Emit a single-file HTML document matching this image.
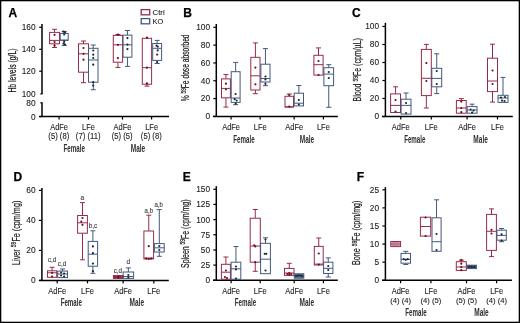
<!DOCTYPE html><html><head><meta charset="utf-8"><style>html,body{margin:0;padding:0;background:#fff;}svg{display:block;}text{font-family:"Liberation Sans",sans-serif;stroke:#222;stroke-width:0.1px;} svg{-webkit-font-smoothing:antialiased;} .g{will-change:transform;}</style></head><body>
<svg style="will-change:transform;filter:blur(0.5px)" width="520" height="323" viewBox="0 0 520 323">
<rect x="0" y="0" width="520" height="323" fill="#fff"/>
<text x="8.5" y="16.6" font-size="12" text-anchor="start" font-weight="bold" fill="#000" style="stroke:#000;stroke-width:0.25px">A</text>
<line x1="42.0" y1="23.9" x2="42.0" y2="94.2" stroke="#000" stroke-width="1.5"/>
<line x1="42.0" y1="102.2" x2="42.0" y2="116.6" stroke="#000" stroke-width="1.5"/>
<line x1="39.2" y1="27.3" x2="42.0" y2="27.3" stroke="#000" stroke-width="1.2"/>
<text x="35.5" y="30.2" font-size="8.3" text-anchor="end" font-weight="normal" fill="#222" >160</text>
<line x1="39.2" y1="49.3" x2="42.0" y2="49.3" stroke="#000" stroke-width="1.2"/>
<text x="35.5" y="52.2" font-size="8.3" text-anchor="end" font-weight="normal" fill="#222" >140</text>
<line x1="39.2" y1="71.2" x2="42.0" y2="71.2" stroke="#000" stroke-width="1.2"/>
<text x="35.5" y="74.1" font-size="8.3" text-anchor="end" font-weight="normal" fill="#222" >120</text>
<line x1="40.4" y1="93.8" x2="42.0" y2="93.8" stroke="#000" stroke-width="1.2"/>
<text x="35.5" y="96.7" font-size="8.3" text-anchor="end" font-weight="normal" fill="#222" >100</text>
<line x1="40.4" y1="102.8" x2="42.0" y2="102.8" stroke="#000" stroke-width="1.2"/>
<text x="35.5" y="105.7" font-size="8.3" text-anchor="end" font-weight="normal" fill="#222" >80</text>
<line x1="39.2" y1="116.6" x2="42.0" y2="116.6" stroke="#000" stroke-width="1.2"/>
<text x="35.5" y="119.5" font-size="8.3" text-anchor="end" font-weight="normal" fill="#222" >0</text>
<line x1="39.1" y1="116.6" x2="169" y2="116.6" stroke="#000" stroke-width="1.5"/>
<line x1="59.1" y1="116.6" x2="59.1" y2="119.6" stroke="#000" stroke-width="1.2"/>
<line x1="88.5" y1="116.6" x2="88.5" y2="119.6" stroke="#000" stroke-width="1.2"/>
<line x1="122.5" y1="116.6" x2="122.5" y2="119.6" stroke="#000" stroke-width="1.2"/>
<line x1="151.6" y1="116.6" x2="151.6" y2="119.6" stroke="#000" stroke-width="1.2"/>
<text x="59.1" y="129.7" font-size="8.2" text-anchor="middle" font-weight="normal" fill="#222" textLength="17.9" lengthAdjust="spacingAndGlyphs" >AdFe</text>
<text x="88.5" y="129.7" font-size="8.2" text-anchor="middle" font-weight="normal" fill="#222" textLength="12.9" lengthAdjust="spacingAndGlyphs" >LFe</text>
<text x="122.5" y="129.7" font-size="8.2" text-anchor="middle" font-weight="normal" fill="#222" textLength="17.9" lengthAdjust="spacingAndGlyphs" >AdFe</text>
<text x="151.6" y="129.7" font-size="8.2" text-anchor="middle" font-weight="normal" fill="#222" textLength="12.9" lengthAdjust="spacingAndGlyphs" >LFe</text>
<text x="58.8" y="139.0" font-size="8.2" text-anchor="middle" font-weight="normal" fill="#222" textLength="20.9" lengthAdjust="spacingAndGlyphs" >(5) (8)</text>
<text x="88.2" y="139.0" font-size="8.2" text-anchor="middle" font-weight="normal" fill="#222" textLength="24.7" lengthAdjust="spacingAndGlyphs" >(7) (11)</text>
<text x="122.2" y="139.0" font-size="8.2" text-anchor="middle" font-weight="normal" fill="#222" textLength="20.9" lengthAdjust="spacingAndGlyphs" >(5) (5)</text>
<text x="151.3" y="139.0" font-size="8.2" text-anchor="middle" font-weight="normal" fill="#222" textLength="20.9" lengthAdjust="spacingAndGlyphs" >(5) (8)</text>
<text x="74.2" y="152.2" font-size="10" text-anchor="middle" font-weight="bold" fill="#303030" textLength="21.3" lengthAdjust="spacingAndGlyphs" style="stroke:none">Female</text>
<text x="138" y="152.2" font-size="10" text-anchor="middle" font-weight="bold" fill="#303030" textLength="14.5" lengthAdjust="spacingAndGlyphs" style="stroke:none">Male</text>
<text transform="translate(15.5,92.6) rotate(-90)" x="0" y="0" font-size="10" fill="#222" style="stroke:#222;stroke-width:0.22px" textLength="44.2" lengthAdjust="spacingAndGlyphs">Hb levels (g/L)</text>
<rect x="141.2" y="9.6" width="8.5" height="5.2" fill="none" stroke="#962c4a" stroke-width="1.3"/>
<rect x="141.2" y="18.6" width="8.5" height="5.2" fill="none" stroke="#43597e" stroke-width="1.3"/>
<text x="152.6" y="14.8" font-size="7.6" text-anchor="start" font-weight="normal" fill="#222" textLength="12.1" lengthAdjust="spacingAndGlyphs" >Ctrl</text>
<text x="152.6" y="23.7" font-size="7.6" text-anchor="start" font-weight="normal" fill="#222" textLength="10.7" lengthAdjust="spacingAndGlyphs" >KO</text>
<line x1="54.55" y1="29.3" x2="54.55" y2="32.4" stroke="#962c4a" stroke-width="1.0"/>
<line x1="52.05" y1="29.3" x2="57.05" y2="29.3" stroke="#962c4a" stroke-width="1.0"/>
<line x1="54.55" y1="43.8" x2="54.55" y2="47.5" stroke="#962c4a" stroke-width="1.0"/>
<line x1="52.05" y1="47.5" x2="57.05" y2="47.5" stroke="#962c4a" stroke-width="1.0"/>
<rect x="49.6" y="32.4" width="9.9" height="11.4" fill="none" stroke="#962c4a" stroke-width="1.0"/>
<line x1="49.6" y1="40.4" x2="59.5" y2="40.4" stroke="#962c4a" stroke-width="1.0"/>
<circle cx="54.55" cy="34.8" r="1.1" fill="#6a0f20"/>
<circle cx="54.55" cy="42.0" r="1.1" fill="#6a0f20"/>
<circle cx="54.55" cy="45.7" r="1.1" fill="#6a0f20"/>
<line x1="64.2" y1="31.4" x2="64.2" y2="33.4" stroke="#43597e" stroke-width="1.0"/>
<line x1="61.7" y1="31.4" x2="66.7" y2="31.4" stroke="#43597e" stroke-width="1.0"/>
<line x1="64.2" y1="40.3" x2="64.2" y2="45.5" stroke="#43597e" stroke-width="1.0"/>
<line x1="61.7" y1="45.5" x2="66.7" y2="45.5" stroke="#43597e" stroke-width="1.0"/>
<rect x="60.2" y="33.4" width="8.0" height="6.9" fill="none" stroke="#43597e" stroke-width="1.0"/>
<line x1="60.2" y1="40.1" x2="68.2" y2="40.1" stroke="#43597e" stroke-width="1.0"/>
<circle cx="63.4" cy="31.6" r="1.1" fill="#1c2838"/>
<circle cx="65.0" cy="32.2" r="1.1" fill="#1c2838"/>
<circle cx="64.2" cy="34.5" r="1.1" fill="#1c2838"/>
<circle cx="64.2" cy="41.5" r="1.1" fill="#1c2838"/>
<circle cx="63.4" cy="43.6" r="1.1" fill="#1c2838"/>
<circle cx="65.0" cy="44.5" r="1.1" fill="#1c2838"/>
<line x1="83.5" y1="41.0" x2="83.5" y2="43.8" stroke="#962c4a" stroke-width="1.0"/>
<line x1="81.0" y1="41.0" x2="86.0" y2="41.0" stroke="#962c4a" stroke-width="1.0"/>
<line x1="83.5" y1="72.2" x2="83.5" y2="82.7" stroke="#962c4a" stroke-width="1.0"/>
<line x1="81.0" y1="82.7" x2="86.0" y2="82.7" stroke="#962c4a" stroke-width="1.0"/>
<rect x="78.5" y="43.8" width="10.0" height="28.4" fill="none" stroke="#962c4a" stroke-width="1.0"/>
<line x1="78.5" y1="53.8" x2="88.5" y2="53.8" stroke="#962c4a" stroke-width="1.0"/>
<circle cx="83.5" cy="48.0" r="1.1" fill="#6a0f20"/>
<circle cx="83.5" cy="53.8" r="1.1" fill="#6a0f20"/>
<circle cx="83.5" cy="59.7" r="1.1" fill="#6a0f20"/>
<line x1="93.25" y1="45.0" x2="93.25" y2="48.3" stroke="#43597e" stroke-width="1.0"/>
<line x1="90.75" y1="45.0" x2="95.75" y2="45.0" stroke="#43597e" stroke-width="1.0"/>
<line x1="93.25" y1="82.2" x2="93.25" y2="89.7" stroke="#43597e" stroke-width="1.0"/>
<line x1="90.75" y1="89.7" x2="95.75" y2="89.7" stroke="#43597e" stroke-width="1.0"/>
<rect x="88.5" y="48.3" width="9.5" height="33.9" fill="none" stroke="#43597e" stroke-width="1.0"/>
<line x1="88.5" y1="60.0" x2="98.0" y2="60.0" stroke="#43597e" stroke-width="1.0"/>
<circle cx="93.25" cy="50.5" r="1.1" fill="#1c2838"/>
<circle cx="93.25" cy="54.7" r="1.1" fill="#1c2838"/>
<circle cx="93.25" cy="58.0" r="1.1" fill="#1c2838"/>
<circle cx="93.25" cy="64.7" r="1.1" fill="#1c2838"/>
<circle cx="93.25" cy="82.2" r="1.1" fill="#1c2838"/>
<circle cx="93.25" cy="85.5" r="1.1" fill="#1c2838"/>
<line x1="117.95" y1="34.5" x2="117.95" y2="35.4" stroke="#962c4a" stroke-width="1.0"/>
<line x1="115.45" y1="34.5" x2="120.45" y2="34.5" stroke="#962c4a" stroke-width="1.0"/>
<line x1="117.95" y1="62.2" x2="117.95" y2="67.4" stroke="#962c4a" stroke-width="1.0"/>
<line x1="115.45" y1="67.4" x2="120.45" y2="67.4" stroke="#962c4a" stroke-width="1.0"/>
<rect x="113.3" y="35.4" width="9.3" height="26.8" fill="none" stroke="#962c4a" stroke-width="1.0"/>
<line x1="113.3" y1="44.8" x2="122.6" y2="44.8" stroke="#962c4a" stroke-width="1.0"/>
<circle cx="117.95" cy="34.7" r="1.1" fill="#6a0f20"/>
<circle cx="117.95" cy="44.8" r="1.1" fill="#6a0f20"/>
<circle cx="117.95" cy="58.1" r="1.1" fill="#6a0f20"/>
<line x1="127.45" y1="30.5" x2="127.45" y2="35.1" stroke="#43597e" stroke-width="1.0"/>
<line x1="124.95" y1="30.5" x2="129.95" y2="30.5" stroke="#43597e" stroke-width="1.0"/>
<line x1="127.45" y1="57.2" x2="127.45" y2="66.4" stroke="#43597e" stroke-width="1.0"/>
<line x1="124.95" y1="66.4" x2="129.95" y2="66.4" stroke="#43597e" stroke-width="1.0"/>
<rect x="123.0" y="35.1" width="8.9" height="22.1" fill="none" stroke="#43597e" stroke-width="1.0"/>
<line x1="123.0" y1="44.8" x2="131.9" y2="44.8" stroke="#43597e" stroke-width="1.0"/>
<circle cx="127.45" cy="38.1" r="1.1" fill="#1c2838"/>
<circle cx="127.45" cy="44.6" r="1.1" fill="#1c2838"/>
<circle cx="127.45" cy="49.1" r="1.1" fill="#1c2838"/>
<line x1="146.95" y1="84.2" x2="146.95" y2="86.1" stroke="#962c4a" stroke-width="1.0"/>
<line x1="144.45" y1="86.1" x2="149.45" y2="86.1" stroke="#962c4a" stroke-width="1.0"/>
<rect x="142.3" y="38.3" width="9.3" height="45.9" fill="none" stroke="#962c4a" stroke-width="1.0"/>
<line x1="142.3" y1="67.7" x2="151.6" y2="67.7" stroke="#962c4a" stroke-width="1.0"/>
<circle cx="146.95" cy="37.6" r="1.1" fill="#6a0f20"/>
<circle cx="146.95" cy="67.7" r="1.1" fill="#6a0f20"/>
<circle cx="146.95" cy="83.4" r="1.1" fill="#6a0f20"/>
<line x1="157.15" y1="40.4" x2="157.15" y2="43.5" stroke="#43597e" stroke-width="1.0"/>
<line x1="154.65" y1="40.4" x2="159.65" y2="40.4" stroke="#43597e" stroke-width="1.0"/>
<line x1="157.15" y1="60.4" x2="157.15" y2="63.5" stroke="#43597e" stroke-width="1.0"/>
<line x1="154.65" y1="63.5" x2="159.65" y2="63.5" stroke="#43597e" stroke-width="1.0"/>
<rect x="152.7" y="43.5" width="8.9" height="16.9" fill="none" stroke="#43597e" stroke-width="1.0"/>
<line x1="152.7" y1="48.3" x2="161.6" y2="48.3" stroke="#43597e" stroke-width="1.0"/>
<circle cx="156.55" cy="45.7" r="1.1" fill="#1c2838"/>
<circle cx="157.75" cy="46.6" r="1.1" fill="#1c2838"/>
<circle cx="157.65" cy="50.4" r="1.1" fill="#1c2838"/>
<circle cx="157.15" cy="54.6" r="1.1" fill="#1c2838"/>
<circle cx="157.15" cy="62" r="1.1" fill="#1c2838"/>
<text x="183.2" y="16.8" font-size="12" text-anchor="start" font-weight="bold" fill="#000" style="stroke:#000;stroke-width:0.25px">B</text>
<line x1="216.3" y1="24" x2="216.3" y2="116.6" stroke="#000" stroke-width="1.5"/>
<line x1="213.3" y1="27.3" x2="216.3" y2="27.3" stroke="#000" stroke-width="1.2"/>
<text x="210.1" y="30.2" font-size="8.3" text-anchor="end" font-weight="normal" fill="#222" >100</text>
<line x1="213.3" y1="45.12" x2="216.3" y2="45.12" stroke="#000" stroke-width="1.2"/>
<text x="210.1" y="48.02" font-size="8.3" text-anchor="end" font-weight="normal" fill="#222" >80</text>
<line x1="213.3" y1="62.94" x2="216.3" y2="62.94" stroke="#000" stroke-width="1.2"/>
<text x="210.1" y="65.84" font-size="8.3" text-anchor="end" font-weight="normal" fill="#222" >60</text>
<line x1="213.3" y1="80.76" x2="216.3" y2="80.76" stroke="#000" stroke-width="1.2"/>
<text x="210.1" y="83.66" font-size="8.3" text-anchor="end" font-weight="normal" fill="#222" >40</text>
<line x1="213.3" y1="98.58" x2="216.3" y2="98.58" stroke="#000" stroke-width="1.2"/>
<text x="210.1" y="101.48" font-size="8.3" text-anchor="end" font-weight="normal" fill="#222" >20</text>
<line x1="213.3" y1="116.4" x2="216.3" y2="116.4" stroke="#000" stroke-width="1.2"/>
<text x="210.1" y="119.3" font-size="8.3" text-anchor="end" font-weight="normal" fill="#222" >0</text>
<line x1="213" y1="116.6" x2="337.8" y2="116.6" stroke="#000" stroke-width="1.5"/>
<line x1="231.1" y1="116.6" x2="231.1" y2="119.6" stroke="#000" stroke-width="1.2"/>
<line x1="260.2" y1="116.6" x2="260.2" y2="119.6" stroke="#000" stroke-width="1.2"/>
<line x1="294.2" y1="116.6" x2="294.2" y2="119.6" stroke="#000" stroke-width="1.2"/>
<line x1="323.4" y1="116.6" x2="323.4" y2="119.6" stroke="#000" stroke-width="1.2"/>
<text x="231.1" y="129.5" font-size="8.2" text-anchor="middle" font-weight="normal" fill="#222" textLength="17.9" lengthAdjust="spacingAndGlyphs" >AdFe</text>
<text x="260.2" y="129.5" font-size="8.2" text-anchor="middle" font-weight="normal" fill="#222" textLength="12.9" lengthAdjust="spacingAndGlyphs" >LFe</text>
<text x="294.2" y="129.5" font-size="8.2" text-anchor="middle" font-weight="normal" fill="#222" textLength="17.9" lengthAdjust="spacingAndGlyphs" >AdFe</text>
<text x="323.4" y="129.5" font-size="8.2" text-anchor="middle" font-weight="normal" fill="#222" textLength="12.9" lengthAdjust="spacingAndGlyphs" >LFe</text>
<text x="244" y="143.0" font-size="10" text-anchor="middle" font-weight="bold" fill="#303030" textLength="21.3" lengthAdjust="spacingAndGlyphs" style="stroke:none">Female</text>
<text x="307" y="143.0" font-size="10" text-anchor="middle" font-weight="bold" fill="#303030" textLength="14.5" lengthAdjust="spacingAndGlyphs" style="stroke:none">Male</text>
<text transform="translate(189.2,101.2) rotate(-90)" x="0" y="0" font-size="10" fill="#222" style="stroke:#222;stroke-width:0.22px" textLength="66.8" lengthAdjust="spacingAndGlyphs">% <tspan font-size="7" dy="-3.2">59</tspan><tspan dy="3.2">Fe dose absorbed</tspan></text>
<line x1="225.95" y1="74.6" x2="225.95" y2="78.9" stroke="#962c4a" stroke-width="1.0"/>
<line x1="223.45" y1="74.6" x2="228.45" y2="74.6" stroke="#962c4a" stroke-width="1.0"/>
<line x1="225.95" y1="97.8" x2="225.95" y2="107.1" stroke="#962c4a" stroke-width="1.0"/>
<line x1="223.45" y1="107.1" x2="228.45" y2="107.1" stroke="#962c4a" stroke-width="1.0"/>
<rect x="221.5" y="78.9" width="8.9" height="18.9" fill="none" stroke="#962c4a" stroke-width="1.0"/>
<line x1="221.5" y1="88.4" x2="230.4" y2="88.4" stroke="#962c4a" stroke-width="1.0"/>
<circle cx="225.95" cy="83.7" r="1.1" fill="#6a0f20"/>
<circle cx="225.95" cy="89.3" r="1.1" fill="#6a0f20"/>
<line x1="235.65" y1="62.4" x2="235.65" y2="71.7" stroke="#43597e" stroke-width="1.0"/>
<line x1="233.15" y1="62.4" x2="238.15" y2="62.4" stroke="#43597e" stroke-width="1.0"/>
<line x1="235.65" y1="102.4" x2="235.65" y2="104.7" stroke="#43597e" stroke-width="1.0"/>
<line x1="233.15" y1="104.7" x2="238.15" y2="104.7" stroke="#43597e" stroke-width="1.0"/>
<rect x="231.2" y="71.7" width="8.9" height="30.7" fill="none" stroke="#43597e" stroke-width="1.0"/>
<line x1="231.2" y1="98.0" x2="240.1" y2="98.0" stroke="#43597e" stroke-width="1.0"/>
<circle cx="235.65" cy="94.0" r="1.1" fill="#1c2838"/>
<circle cx="234.65" cy="99.2" r="1.1" fill="#1c2838"/>
<circle cx="236.65" cy="100.5" r="1.1" fill="#1c2838"/>
<circle cx="235.65" cy="103.7" r="1.1" fill="#1c2838"/>
<line x1="255.4" y1="42.9" x2="255.4" y2="57.3" stroke="#962c4a" stroke-width="1.0"/>
<line x1="252.9" y1="42.9" x2="257.9" y2="42.9" stroke="#962c4a" stroke-width="1.0"/>
<line x1="255.4" y1="90.0" x2="255.4" y2="93.7" stroke="#962c4a" stroke-width="1.0"/>
<line x1="252.9" y1="93.7" x2="257.9" y2="93.7" stroke="#962c4a" stroke-width="1.0"/>
<rect x="250.8" y="57.3" width="9.2" height="32.7" fill="none" stroke="#962c4a" stroke-width="1.0"/>
<line x1="250.8" y1="75.8" x2="260.0" y2="75.8" stroke="#962c4a" stroke-width="1.0"/>
<circle cx="255.4" cy="67.6" r="1.1" fill="#6a0f20"/>
<circle cx="255.4" cy="84.3" r="1.1" fill="#6a0f20"/>
<line x1="265.45" y1="48.6" x2="265.45" y2="64.2" stroke="#43597e" stroke-width="1.0"/>
<line x1="262.95" y1="48.6" x2="267.95" y2="48.6" stroke="#43597e" stroke-width="1.0"/>
<line x1="265.45" y1="82.0" x2="265.45" y2="85.7" stroke="#43597e" stroke-width="1.0"/>
<line x1="262.95" y1="85.7" x2="267.95" y2="85.7" stroke="#43597e" stroke-width="1.0"/>
<rect x="260.9" y="64.2" width="9.1" height="17.8" fill="none" stroke="#43597e" stroke-width="1.0"/>
<line x1="260.9" y1="78.5" x2="270.0" y2="78.5" stroke="#43597e" stroke-width="1.0"/>
<circle cx="265.45" cy="76.5" r="1.1" fill="#1c2838"/>
<circle cx="265.45" cy="79.5" r="1.1" fill="#1c2838"/>
<circle cx="265.45" cy="84" r="1.1" fill="#1c2838"/>
<line x1="289.25" y1="94.0" x2="289.25" y2="96.3" stroke="#962c4a" stroke-width="1.0"/>
<line x1="286.75" y1="94.0" x2="291.75" y2="94.0" stroke="#962c4a" stroke-width="1.0"/>
<rect x="285.0" y="96.3" width="8.5" height="10.8" fill="none" stroke="#962c4a" stroke-width="1.0"/>
<line x1="285.0" y1="106.8" x2="293.5" y2="106.8" stroke="#962c4a" stroke-width="1.0"/>
<circle cx="289.25" cy="95" r="1.1" fill="#6a0f20"/>
<circle cx="289.25" cy="106.5" r="1.1" fill="#6a0f20"/>
<line x1="298.85" y1="85.5" x2="298.85" y2="93.2" stroke="#43597e" stroke-width="1.0"/>
<line x1="296.35" y1="85.5" x2="301.35" y2="85.5" stroke="#43597e" stroke-width="1.0"/>
<rect x="294.2" y="93.2" width="9.3" height="12.7" fill="none" stroke="#43597e" stroke-width="1.0"/>
<line x1="294.2" y1="103.2" x2="303.5" y2="103.2" stroke="#43597e" stroke-width="1.0"/>
<circle cx="298.85" cy="100" r="1.1" fill="#1c2838"/>
<circle cx="298.85" cy="104.5" r="1.1" fill="#1c2838"/>
<line x1="318.5" y1="47.9" x2="318.5" y2="55.3" stroke="#962c4a" stroke-width="1.0"/>
<line x1="316.0" y1="47.9" x2="321.0" y2="47.9" stroke="#962c4a" stroke-width="1.0"/>
<rect x="313.9" y="55.3" width="9.2" height="19.8" fill="none" stroke="#962c4a" stroke-width="1.0"/>
<line x1="313.9" y1="64.7" x2="323.1" y2="64.7" stroke="#962c4a" stroke-width="1.0"/>
<circle cx="318.5" cy="61" r="1.1" fill="#6a0f20"/>
<circle cx="318.5" cy="75" r="1.1" fill="#6a0f20"/>
<line x1="328.75" y1="64.7" x2="328.75" y2="67.7" stroke="#43597e" stroke-width="1.0"/>
<line x1="326.25" y1="64.7" x2="331.25" y2="64.7" stroke="#43597e" stroke-width="1.0"/>
<line x1="328.75" y1="85.7" x2="328.75" y2="107.3" stroke="#43597e" stroke-width="1.0"/>
<line x1="326.25" y1="107.3" x2="331.25" y2="107.3" stroke="#43597e" stroke-width="1.0"/>
<rect x="323.9" y="67.7" width="9.7" height="18.0" fill="none" stroke="#43597e" stroke-width="1.0"/>
<line x1="323.9" y1="74.1" x2="333.6" y2="74.1" stroke="#43597e" stroke-width="1.0"/>
<circle cx="328.75" cy="72" r="1.1" fill="#1c2838"/>
<circle cx="328.75" cy="78" r="1.1" fill="#1c2838"/>
<text x="351.9" y="17.2" font-size="12" text-anchor="start" font-weight="bold" fill="#000" style="stroke:#000;stroke-width:0.25px">C</text>
<line x1="385.4" y1="22.8" x2="385.4" y2="116.5" stroke="#000" stroke-width="1.5"/>
<line x1="382.4" y1="26.5" x2="385.4" y2="26.5" stroke="#000" stroke-width="1.2"/>
<text x="379.1" y="29.4" font-size="8.3" text-anchor="end" font-weight="normal" fill="#222" >100</text>
<line x1="382.4" y1="44.5" x2="385.4" y2="44.5" stroke="#000" stroke-width="1.2"/>
<text x="379.1" y="47.4" font-size="8.3" text-anchor="end" font-weight="normal" fill="#222" >80</text>
<line x1="382.4" y1="62.5" x2="385.4" y2="62.5" stroke="#000" stroke-width="1.2"/>
<text x="379.1" y="65.4" font-size="8.3" text-anchor="end" font-weight="normal" fill="#222" >60</text>
<line x1="382.4" y1="80.5" x2="385.4" y2="80.5" stroke="#000" stroke-width="1.2"/>
<text x="379.1" y="83.4" font-size="8.3" text-anchor="end" font-weight="normal" fill="#222" >40</text>
<line x1="382.4" y1="98.5" x2="385.4" y2="98.5" stroke="#000" stroke-width="1.2"/>
<text x="379.1" y="101.4" font-size="8.3" text-anchor="end" font-weight="normal" fill="#222" >20</text>
<line x1="382.4" y1="116.5" x2="385.4" y2="116.5" stroke="#000" stroke-width="1.2"/>
<text x="379.1" y="119.4" font-size="8.3" text-anchor="end" font-weight="normal" fill="#222" >0</text>
<line x1="382" y1="116.5" x2="512.8" y2="116.5" stroke="#000" stroke-width="1.5"/>
<line x1="400.8" y1="116.5" x2="400.8" y2="119.5" stroke="#000" stroke-width="1.2"/>
<line x1="431.3" y1="116.5" x2="431.3" y2="119.5" stroke="#000" stroke-width="1.2"/>
<line x1="467.1" y1="116.5" x2="467.1" y2="119.5" stroke="#000" stroke-width="1.2"/>
<line x1="497.5" y1="116.5" x2="497.5" y2="119.5" stroke="#000" stroke-width="1.2"/>
<text x="400.8" y="129.5" font-size="8.2" text-anchor="middle" font-weight="normal" fill="#222" textLength="17.9" lengthAdjust="spacingAndGlyphs" >AdFe</text>
<text x="431.3" y="129.5" font-size="8.2" text-anchor="middle" font-weight="normal" fill="#222" textLength="12.9" lengthAdjust="spacingAndGlyphs" >LFe</text>
<text x="467.1" y="129.5" font-size="8.2" text-anchor="middle" font-weight="normal" fill="#222" textLength="17.9" lengthAdjust="spacingAndGlyphs" >AdFe</text>
<text x="497.5" y="129.5" font-size="8.2" text-anchor="middle" font-weight="normal" fill="#222" textLength="12.9" lengthAdjust="spacingAndGlyphs" >LFe</text>
<text x="414.8" y="143.0" font-size="10" text-anchor="middle" font-weight="bold" fill="#303030" textLength="21.3" lengthAdjust="spacingAndGlyphs" style="stroke:none">Female</text>
<text x="480.6" y="143.0" font-size="10" text-anchor="middle" font-weight="bold" fill="#303030" textLength="14.5" lengthAdjust="spacingAndGlyphs" style="stroke:none">Male</text>
<text transform="translate(361.3,101.5) rotate(-90)" x="0" y="0" font-size="10" fill="#222" style="stroke:#222;stroke-width:0.22px" textLength="63.4" lengthAdjust="spacingAndGlyphs">Blood <tspan font-size="7" dy="-3.2">59</tspan><tspan dy="3.2">Fe (cpm/µL)</tspan></text>
<line x1="395.55" y1="86.8" x2="395.55" y2="93.9" stroke="#962c4a" stroke-width="1.0"/>
<line x1="393.05" y1="86.8" x2="398.05" y2="86.8" stroke="#962c4a" stroke-width="1.0"/>
<rect x="390.6" y="93.9" width="9.9" height="18.6" fill="none" stroke="#962c4a" stroke-width="1.0"/>
<line x1="390.6" y1="105.4" x2="400.5" y2="105.4" stroke="#962c4a" stroke-width="1.0"/>
<circle cx="395.55" cy="100" r="1.1" fill="#6a0f20"/>
<circle cx="395.55" cy="111.5" r="1.1" fill="#6a0f20"/>
<line x1="406.05" y1="93.0" x2="406.05" y2="99.2" stroke="#43597e" stroke-width="1.0"/>
<line x1="403.55" y1="93.0" x2="408.55" y2="93.0" stroke="#43597e" stroke-width="1.0"/>
<rect x="401.1" y="99.2" width="9.9" height="14.9" fill="none" stroke="#43597e" stroke-width="1.0"/>
<line x1="401.1" y1="105.4" x2="411.0" y2="105.4" stroke="#43597e" stroke-width="1.0"/>
<circle cx="406.05" cy="103" r="1.1" fill="#1c2838"/>
<circle cx="406.05" cy="113" r="1.1" fill="#1c2838"/>
<line x1="426.35" y1="44.4" x2="426.35" y2="49.4" stroke="#962c4a" stroke-width="1.0"/>
<line x1="423.85" y1="44.4" x2="428.85" y2="44.4" stroke="#962c4a" stroke-width="1.0"/>
<line x1="426.35" y1="95.6" x2="426.35" y2="108" stroke="#962c4a" stroke-width="1.0"/>
<line x1="423.85" y1="108" x2="428.85" y2="108" stroke="#962c4a" stroke-width="1.0"/>
<rect x="421.4" y="49.4" width="9.9" height="46.2" fill="none" stroke="#962c4a" stroke-width="1.0"/>
<line x1="421.4" y1="78.3" x2="431.3" y2="78.3" stroke="#962c4a" stroke-width="1.0"/>
<circle cx="426.35" cy="63" r="1.1" fill="#6a0f20"/>
<circle cx="426.35" cy="81" r="1.1" fill="#6a0f20"/>
<line x1="436.75" y1="53.8" x2="436.75" y2="68.3" stroke="#43597e" stroke-width="1.0"/>
<line x1="434.25" y1="53.8" x2="439.25" y2="53.8" stroke="#43597e" stroke-width="1.0"/>
<line x1="436.75" y1="86.8" x2="436.75" y2="93.6" stroke="#43597e" stroke-width="1.0"/>
<line x1="434.25" y1="93.6" x2="439.25" y2="93.6" stroke="#43597e" stroke-width="1.0"/>
<rect x="431.8" y="68.3" width="9.9" height="18.5" fill="none" stroke="#43597e" stroke-width="1.0"/>
<line x1="431.8" y1="78.4" x2="441.7" y2="78.4" stroke="#43597e" stroke-width="1.0"/>
<circle cx="436.75" cy="71" r="1.1" fill="#1c2838"/>
<circle cx="436.75" cy="84" r="1.1" fill="#1c2838"/>
<line x1="461.3" y1="98.6" x2="461.3" y2="100.5" stroke="#962c4a" stroke-width="1.0"/>
<line x1="458.8" y1="98.6" x2="463.8" y2="98.6" stroke="#962c4a" stroke-width="1.0"/>
<rect x="456.4" y="100.5" width="9.8" height="12.7" fill="none" stroke="#962c4a" stroke-width="1.0"/>
<line x1="456.4" y1="108.0" x2="466.2" y2="108.0" stroke="#962c4a" stroke-width="1.0"/>
<circle cx="461.3" cy="101.6" r="1.1" fill="#6a0f20"/>
<circle cx="461.3" cy="108" r="1.1" fill="#6a0f20"/>
<circle cx="461.3" cy="112.2" r="1.1" fill="#6a0f20"/>
<line x1="472.1" y1="104.2" x2="472.1" y2="106.6" stroke="#43597e" stroke-width="1.0"/>
<line x1="469.6" y1="104.2" x2="474.6" y2="104.2" stroke="#43597e" stroke-width="1.0"/>
<rect x="467.2" y="106.6" width="9.8" height="6.6" fill="none" stroke="#43597e" stroke-width="1.0"/>
<line x1="467.2" y1="110.0" x2="477.0" y2="110.0" stroke="#43597e" stroke-width="1.0"/>
<circle cx="470.6" cy="109.5" r="1.1" fill="#1c2838"/>
<circle cx="473.6" cy="110.5" r="1.1" fill="#1c2838"/>
<circle cx="472.1" cy="112.5" r="1.1" fill="#1c2838"/>
<line x1="492.5" y1="44.2" x2="492.5" y2="58.2" stroke="#962c4a" stroke-width="1.0"/>
<line x1="490.0" y1="44.2" x2="495.0" y2="44.2" stroke="#962c4a" stroke-width="1.0"/>
<line x1="492.5" y1="91.6" x2="492.5" y2="102.1" stroke="#962c4a" stroke-width="1.0"/>
<line x1="490.0" y1="102.1" x2="495.0" y2="102.1" stroke="#962c4a" stroke-width="1.0"/>
<rect x="487.5" y="58.2" width="10.0" height="33.4" fill="none" stroke="#962c4a" stroke-width="1.0"/>
<line x1="487.5" y1="81.0" x2="497.5" y2="81.0" stroke="#962c4a" stroke-width="1.0"/>
<circle cx="492.5" cy="70.5" r="1.1" fill="#6a0f20"/>
<circle cx="492.5" cy="84" r="1.1" fill="#6a0f20"/>
<line x1="503.0" y1="77.4" x2="503.0" y2="95.3" stroke="#43597e" stroke-width="1.0"/>
<line x1="500.5" y1="77.4" x2="505.5" y2="77.4" stroke="#43597e" stroke-width="1.0"/>
<rect x="498.0" y="95.3" width="10.0" height="7.1" fill="none" stroke="#43597e" stroke-width="1.0"/>
<line x1="498.0" y1="98.0" x2="508.0" y2="98.0" stroke="#43597e" stroke-width="1.0"/>
<circle cx="501.0" cy="97.5" r="1.1" fill="#1c2838"/>
<circle cx="505.0" cy="97" r="1.1" fill="#1c2838"/>
<circle cx="502.0" cy="100.6" r="1.1" fill="#1c2838"/>
<circle cx="504.5" cy="101" r="1.1" fill="#1c2838"/>
<text x="13.5" y="180.6" font-size="12" text-anchor="start" font-weight="bold" fill="#000" style="stroke:#000;stroke-width:0.25px">D</text>
<line x1="41.9" y1="188.0" x2="41.9" y2="280.4" stroke="#000" stroke-width="1.5"/>
<line x1="38.9" y1="190.4" x2="41.9" y2="190.4" stroke="#000" stroke-width="1.2"/>
<text x="35.5" y="193.3" font-size="8.3" text-anchor="end" font-weight="normal" fill="#222" >60</text>
<line x1="38.9" y1="220.4" x2="41.9" y2="220.4" stroke="#000" stroke-width="1.2"/>
<text x="35.5" y="223.3" font-size="8.3" text-anchor="end" font-weight="normal" fill="#222" >40</text>
<line x1="38.9" y1="250.4" x2="41.9" y2="250.4" stroke="#000" stroke-width="1.2"/>
<text x="35.5" y="253.3" font-size="8.3" text-anchor="end" font-weight="normal" fill="#222" >20</text>
<line x1="38.9" y1="280.4" x2="41.9" y2="280.4" stroke="#000" stroke-width="1.2"/>
<text x="35.5" y="283.3" font-size="8.3" text-anchor="end" font-weight="normal" fill="#222" >0</text>
<line x1="38.9" y1="280.4" x2="168.8" y2="280.4" stroke="#000" stroke-width="1.5"/>
<line x1="57.2" y1="280.4" x2="57.2" y2="283.4" stroke="#000" stroke-width="1.2"/>
<line x1="87.5" y1="280.4" x2="87.5" y2="283.4" stroke="#000" stroke-width="1.2"/>
<line x1="123.1" y1="280.4" x2="123.1" y2="283.4" stroke="#000" stroke-width="1.2"/>
<line x1="153.8" y1="280.4" x2="153.8" y2="283.4" stroke="#000" stroke-width="1.2"/>
<text x="57.2" y="293.8" font-size="8.2" text-anchor="middle" font-weight="normal" fill="#222" textLength="17.9" lengthAdjust="spacingAndGlyphs" >AdFe</text>
<text x="87.5" y="293.8" font-size="8.2" text-anchor="middle" font-weight="normal" fill="#222" textLength="12.9" lengthAdjust="spacingAndGlyphs" >LFe</text>
<text x="123.1" y="293.8" font-size="8.2" text-anchor="middle" font-weight="normal" fill="#222" textLength="17.9" lengthAdjust="spacingAndGlyphs" >AdFe</text>
<text x="153.8" y="293.8" font-size="8.2" text-anchor="middle" font-weight="normal" fill="#222" textLength="12.9" lengthAdjust="spacingAndGlyphs" >LFe</text>
<text x="71.3" y="305.6" font-size="10" text-anchor="middle" font-weight="bold" fill="#303030" textLength="21.3" lengthAdjust="spacingAndGlyphs" style="stroke:none">Female</text>
<text x="136.8" y="305.6" font-size="10" text-anchor="middle" font-weight="bold" fill="#303030" textLength="14.5" lengthAdjust="spacingAndGlyphs" style="stroke:none">Male</text>
<text transform="translate(19.6,264.9) rotate(-90)" x="0" y="0" font-size="10" fill="#222" style="stroke:#222;stroke-width:0.22px" textLength="64.2" lengthAdjust="spacingAndGlyphs">Liver <tspan font-size="7" dy="-3.2">59</tspan><tspan dy="3.2">Fe (cpm/mg)</tspan></text>
<line x1="52.1" y1="267.3" x2="52.1" y2="270.8" stroke="#962c4a" stroke-width="1.0"/>
<line x1="49.6" y1="267.3" x2="54.6" y2="267.3" stroke="#962c4a" stroke-width="1.0"/>
<rect x="47.5" y="270.8" width="9.2" height="6.5" fill="none" stroke="#962c4a" stroke-width="1.0"/>
<line x1="47.5" y1="272.8" x2="56.7" y2="272.8" stroke="#962c4a" stroke-width="1.0"/>
<circle cx="52.1" cy="272.8" r="1.1" fill="#6a0f20"/>
<circle cx="52.1" cy="276.5" r="1.1" fill="#6a0f20"/>
<line x1="62.6" y1="269.0" x2="62.6" y2="271.1" stroke="#43597e" stroke-width="1.0"/>
<line x1="60.1" y1="269.0" x2="65.1" y2="269.0" stroke="#43597e" stroke-width="1.0"/>
<rect x="57.7" y="271.1" width="9.8" height="6.5" fill="none" stroke="#43597e" stroke-width="1.0"/>
<line x1="57.7" y1="274.0" x2="67.5" y2="274.0" stroke="#43597e" stroke-width="1.0"/>
<circle cx="61.1" cy="272.5" r="1.1" fill="#1c2838"/>
<circle cx="64.1" cy="273.5" r="1.1" fill="#1c2838"/>
<circle cx="61.1" cy="275.5" r="1.1" fill="#1c2838"/>
<circle cx="64.1" cy="276.5" r="1.1" fill="#1c2838"/>
<line x1="82.5" y1="202.6" x2="82.5" y2="215.5" stroke="#962c4a" stroke-width="1.0"/>
<line x1="80.0" y1="202.6" x2="85.0" y2="202.6" stroke="#962c4a" stroke-width="1.0"/>
<line x1="82.5" y1="233.2" x2="82.5" y2="259.8" stroke="#962c4a" stroke-width="1.0"/>
<line x1="80.0" y1="259.8" x2="85.0" y2="259.8" stroke="#962c4a" stroke-width="1.0"/>
<rect x="77.6" y="215.5" width="9.8" height="17.7" fill="none" stroke="#962c4a" stroke-width="1.0"/>
<line x1="77.6" y1="222.8" x2="87.4" y2="222.8" stroke="#962c4a" stroke-width="1.0"/>
<circle cx="82.5" cy="218.0" r="1.1" fill="#6a0f20"/>
<circle cx="81.3" cy="221.6" r="1.1" fill="#6a0f20"/>
<circle cx="82.5" cy="224.8" r="1.1" fill="#6a0f20"/>
<line x1="92.9" y1="230.8" x2="92.9" y2="241.4" stroke="#43597e" stroke-width="1.0"/>
<line x1="90.4" y1="230.8" x2="95.4" y2="230.8" stroke="#43597e" stroke-width="1.0"/>
<line x1="92.9" y1="266.2" x2="92.9" y2="273.3" stroke="#43597e" stroke-width="1.0"/>
<line x1="90.4" y1="273.3" x2="95.4" y2="273.3" stroke="#43597e" stroke-width="1.0"/>
<rect x="88.2" y="241.4" width="9.4" height="24.8" fill="none" stroke="#43597e" stroke-width="1.0"/>
<line x1="88.2" y1="254.2" x2="97.6" y2="254.2" stroke="#43597e" stroke-width="1.0"/>
<circle cx="92.9" cy="246.4" r="1.1" fill="#1c2838"/>
<circle cx="92.9" cy="253.2" r="1.1" fill="#1c2838"/>
<circle cx="92.9" cy="263.6" r="1.1" fill="#1c2838"/>
<circle cx="92.9" cy="271.2" r="1.1" fill="#1c2838"/>
<rect x="113.4" y="275.6" width="9.8" height="2.8" fill="#962c4a" stroke="#962c4a" stroke-width="1.0"/>
<line x1="113.4" y1="277.0" x2="123.2" y2="277.0" stroke="#962c4a" stroke-width="1.0"/>
<circle cx="118.3" cy="276.5" r="1.1" fill="#6a0f20"/>
<circle cx="118.3" cy="277.5" r="1.1" fill="#6a0f20"/>
<line x1="128.35" y1="267.9" x2="128.35" y2="272.0" stroke="#43597e" stroke-width="1.0"/>
<line x1="125.85" y1="267.9" x2="130.85" y2="267.9" stroke="#43597e" stroke-width="1.0"/>
<rect x="123.1" y="272.0" width="10.5" height="6.4" fill="none" stroke="#43597e" stroke-width="1.0"/>
<line x1="123.1" y1="276.5" x2="133.6" y2="276.5" stroke="#43597e" stroke-width="1.0"/>
<circle cx="128.35" cy="275" r="1.1" fill="#1c2838"/>
<circle cx="128.35" cy="277.5" r="1.1" fill="#1c2838"/>
<line x1="148.75" y1="215.2" x2="148.75" y2="231.0" stroke="#962c4a" stroke-width="1.0"/>
<line x1="146.25" y1="215.2" x2="151.25" y2="215.2" stroke="#962c4a" stroke-width="1.0"/>
<rect x="143.9" y="231.0" width="9.7" height="27.9" fill="none" stroke="#962c4a" stroke-width="1.0"/>
<line x1="143.9" y1="258.0" x2="153.6" y2="258.0" stroke="#962c4a" stroke-width="1.0"/>
<circle cx="148.75" cy="246.2" r="1.1" fill="#6a0f20"/>
<circle cx="146.25" cy="258.6" r="1.1" fill="#6a0f20"/>
<circle cx="148.75" cy="259.0" r="1.1" fill="#6a0f20"/>
<circle cx="151.25" cy="258.6" r="1.1" fill="#6a0f20"/>
<line x1="159.3" y1="209.6" x2="159.3" y2="243.6" stroke="#43597e" stroke-width="1.0"/>
<line x1="156.8" y1="209.6" x2="161.8" y2="209.6" stroke="#43597e" stroke-width="1.0"/>
<line x1="159.3" y1="252.0" x2="159.3" y2="256.3" stroke="#43597e" stroke-width="1.0"/>
<line x1="156.8" y1="256.3" x2="161.8" y2="256.3" stroke="#43597e" stroke-width="1.0"/>
<rect x="154.4" y="243.6" width="9.8" height="8.4" fill="none" stroke="#43597e" stroke-width="1.0"/>
<line x1="154.4" y1="247.8" x2="164.2" y2="247.8" stroke="#43597e" stroke-width="1.0"/>
<circle cx="159.3" cy="246" r="1.1" fill="#1c2838"/>
<circle cx="159.3" cy="250" r="1.1" fill="#1c2838"/>
<text x="52.1" y="262.2" font-size="6.6" text-anchor="middle" font-weight="normal" fill="#3a3a3a" textLength="8.3" lengthAdjust="spacingAndGlyphs" >c,d</text>
<text x="62" y="265.5" font-size="6.6" text-anchor="middle" font-weight="normal" fill="#3a3a3a" textLength="8.3" lengthAdjust="spacingAndGlyphs" >c,d</text>
<text x="82.4" y="200.2" font-size="6.6" text-anchor="middle" font-weight="normal" fill="#3a3a3a" >a</text>
<text x="92.9" y="228.2" font-size="6.6" text-anchor="middle" font-weight="normal" fill="#3a3a3a" textLength="8.5" lengthAdjust="spacingAndGlyphs" >b,c</text>
<text x="117.9" y="272.5" font-size="6.6" text-anchor="middle" font-weight="normal" fill="#3a3a3a" textLength="8.3" lengthAdjust="spacingAndGlyphs" >c,d</text>
<text x="128.4" y="264.3" font-size="6.6" text-anchor="middle" font-weight="normal" fill="#3a3a3a" >d</text>
<text x="148.8" y="212.8" font-size="6.6" text-anchor="middle" font-weight="normal" fill="#3a3a3a" textLength="8.4" lengthAdjust="spacingAndGlyphs" >a,b</text>
<text x="158.6" y="207.3" font-size="6.6" text-anchor="middle" font-weight="normal" fill="#3a3a3a" textLength="8.4" lengthAdjust="spacingAndGlyphs" >a,b</text>
<text x="182.8" y="180.6" font-size="12" text-anchor="start" font-weight="bold" fill="#000" style="stroke:#000;stroke-width:0.25px">E</text>
<line x1="216.3" y1="186.2" x2="216.3" y2="280.3" stroke="#000" stroke-width="1.5"/>
<line x1="213.3" y1="189.25" x2="216.3" y2="189.25" stroke="#000" stroke-width="1.2"/>
<text x="210.0" y="192.15" font-size="8.3" text-anchor="end" font-weight="normal" fill="#222" >150</text>
<line x1="213.3" y1="204.43" x2="216.3" y2="204.43" stroke="#000" stroke-width="1.2"/>
<text x="210.0" y="207.33" font-size="8.3" text-anchor="end" font-weight="normal" fill="#222" >125</text>
<line x1="213.3" y1="219.6" x2="216.3" y2="219.6" stroke="#000" stroke-width="1.2"/>
<text x="210.0" y="222.5" font-size="8.3" text-anchor="end" font-weight="normal" fill="#222" >100</text>
<line x1="213.3" y1="234.78" x2="216.3" y2="234.78" stroke="#000" stroke-width="1.2"/>
<text x="210.0" y="237.68" font-size="8.3" text-anchor="end" font-weight="normal" fill="#222" >75</text>
<line x1="213.3" y1="249.95" x2="216.3" y2="249.95" stroke="#000" stroke-width="1.2"/>
<text x="210.0" y="252.85" font-size="8.3" text-anchor="end" font-weight="normal" fill="#222" >50</text>
<line x1="213.3" y1="265.12" x2="216.3" y2="265.12" stroke="#000" stroke-width="1.2"/>
<text x="210.0" y="268.02" font-size="8.3" text-anchor="end" font-weight="normal" fill="#222" >25</text>
<line x1="213.3" y1="280.3" x2="216.3" y2="280.3" stroke="#000" stroke-width="1.2"/>
<text x="210.0" y="283.2" font-size="8.3" text-anchor="end" font-weight="normal" fill="#222" >0</text>
<line x1="213" y1="280.3" x2="337.8" y2="280.3" stroke="#000" stroke-width="1.5"/>
<line x1="231.1" y1="280.3" x2="231.1" y2="283.3" stroke="#000" stroke-width="1.2"/>
<line x1="260.2" y1="280.3" x2="260.2" y2="283.3" stroke="#000" stroke-width="1.2"/>
<line x1="294.2" y1="280.3" x2="294.2" y2="283.3" stroke="#000" stroke-width="1.2"/>
<line x1="323.4" y1="280.3" x2="323.4" y2="283.3" stroke="#000" stroke-width="1.2"/>
<text x="231.1" y="293.8" font-size="8.2" text-anchor="middle" font-weight="normal" fill="#222" textLength="17.9" lengthAdjust="spacingAndGlyphs" >AdFe</text>
<text x="260.2" y="293.8" font-size="8.2" text-anchor="middle" font-weight="normal" fill="#222" textLength="12.9" lengthAdjust="spacingAndGlyphs" >LFe</text>
<text x="294.2" y="293.8" font-size="8.2" text-anchor="middle" font-weight="normal" fill="#222" textLength="17.9" lengthAdjust="spacingAndGlyphs" >AdFe</text>
<text x="323.4" y="293.8" font-size="8.2" text-anchor="middle" font-weight="normal" fill="#222" textLength="12.9" lengthAdjust="spacingAndGlyphs" >LFe</text>
<text x="245.5" y="305.6" font-size="10" text-anchor="middle" font-weight="bold" fill="#303030" textLength="21.3" lengthAdjust="spacingAndGlyphs" style="stroke:none">Female</text>
<text x="306.8" y="305.6" font-size="10" text-anchor="middle" font-weight="bold" fill="#303030" textLength="14.5" lengthAdjust="spacingAndGlyphs" style="stroke:none">Male</text>
<text transform="translate(188.5,268.0) rotate(-90)" x="0" y="0" font-size="10" fill="#222" style="stroke:#222;stroke-width:0.22px" textLength="68.5" lengthAdjust="spacingAndGlyphs">Spleen <tspan font-size="7" dy="-3.2">59</tspan><tspan dy="3.2">Fe (cpm/mg)</tspan></text>
<line x1="225.9" y1="257.0" x2="225.9" y2="264.3" stroke="#962c4a" stroke-width="1.0"/>
<line x1="223.4" y1="257.0" x2="228.4" y2="257.0" stroke="#962c4a" stroke-width="1.0"/>
<rect x="221.4" y="264.3" width="9.0" height="14.9" fill="none" stroke="#962c4a" stroke-width="1.0"/>
<line x1="221.4" y1="272.2" x2="230.4" y2="272.2" stroke="#962c4a" stroke-width="1.0"/>
<circle cx="225.9" cy="270.5" r="1.1" fill="#6a0f20"/>
<circle cx="224.9" cy="277" r="1.1" fill="#6a0f20"/>
<circle cx="226.9" cy="278" r="1.1" fill="#6a0f20"/>
<line x1="235.95" y1="246.5" x2="235.95" y2="262.2" stroke="#43597e" stroke-width="1.0"/>
<line x1="233.45" y1="246.5" x2="238.45" y2="246.5" stroke="#43597e" stroke-width="1.0"/>
<rect x="231.1" y="262.2" width="9.7" height="17.0" fill="none" stroke="#43597e" stroke-width="1.0"/>
<line x1="231.1" y1="268.8" x2="240.8" y2="268.8" stroke="#43597e" stroke-width="1.0"/>
<circle cx="235.95" cy="266.5" r="1.1" fill="#1c2838"/>
<circle cx="235.95" cy="269.5" r="1.1" fill="#1c2838"/>
<circle cx="235.95" cy="278.5" r="1.1" fill="#1c2838"/>
<line x1="255.25" y1="209.5" x2="255.25" y2="218.2" stroke="#962c4a" stroke-width="1.0"/>
<line x1="252.75" y1="209.5" x2="257.75" y2="209.5" stroke="#962c4a" stroke-width="1.0"/>
<line x1="255.25" y1="262.2" x2="255.25" y2="271.3" stroke="#962c4a" stroke-width="1.0"/>
<line x1="252.75" y1="271.3" x2="257.75" y2="271.3" stroke="#962c4a" stroke-width="1.0"/>
<rect x="250.2" y="218.2" width="10.1" height="44.0" fill="none" stroke="#962c4a" stroke-width="1.0"/>
<line x1="250.2" y1="246.0" x2="260.3" y2="246.0" stroke="#962c4a" stroke-width="1.0"/>
<circle cx="254.25" cy="245.3" r="1.1" fill="#6a0f20"/>
<circle cx="255.25" cy="246.5" r="1.1" fill="#6a0f20"/>
<circle cx="255.25" cy="262.2" r="1.1" fill="#6a0f20"/>
<line x1="265.5" y1="237.8" x2="265.5" y2="243.3" stroke="#43597e" stroke-width="1.0"/>
<line x1="263.0" y1="237.8" x2="268.0" y2="237.8" stroke="#43597e" stroke-width="1.0"/>
<rect x="260.6" y="243.3" width="9.8" height="30.4" fill="none" stroke="#43597e" stroke-width="1.0"/>
<line x1="260.6" y1="259.2" x2="270.4" y2="259.2" stroke="#43597e" stroke-width="1.0"/>
<circle cx="265.5" cy="239.5" r="1.1" fill="#1c2838"/>
<circle cx="264.7" cy="253.8" r="1.1" fill="#1c2838"/>
<circle cx="266.3" cy="253.8" r="1.1" fill="#1c2838"/>
<circle cx="265.5" cy="270.5" r="1.1" fill="#1c2838"/>
<line x1="289.25" y1="263.3" x2="289.25" y2="268.4" stroke="#962c4a" stroke-width="1.0"/>
<line x1="286.75" y1="263.3" x2="291.75" y2="263.3" stroke="#962c4a" stroke-width="1.0"/>
<rect x="284.5" y="268.4" width="9.5" height="7.0" fill="none" stroke="#962c4a" stroke-width="1.0"/>
<line x1="284.5" y1="273.0" x2="294.0" y2="273.0" stroke="#962c4a" stroke-width="1.0"/>
<circle cx="287.25" cy="274" r="1.1" fill="#6a0f20"/>
<circle cx="289.25" cy="273" r="1.1" fill="#6a0f20"/>
<circle cx="291.25" cy="274" r="1.1" fill="#6a0f20"/>
<circle cx="289.25" cy="274.8" r="1.1" fill="#6a0f20"/>
<rect x="294.3" y="273.8" width="9.5" height="4.4" fill="#6a7a98" stroke="#43597e" stroke-width="1.0"/>
<line x1="294.3" y1="276.0" x2="303.8" y2="276.0" stroke="#43597e" stroke-width="1.0"/>
<circle cx="296.05" cy="276.0" r="1.1" fill="#1c2838"/>
<circle cx="298.05" cy="275.5" r="1.1" fill="#1c2838"/>
<circle cx="300.05" cy="275.5" r="1.1" fill="#1c2838"/>
<circle cx="302.05" cy="276.0" r="1.1" fill="#1c2838"/>
<line x1="318.75" y1="238.0" x2="318.75" y2="246.4" stroke="#962c4a" stroke-width="1.0"/>
<line x1="316.25" y1="238.0" x2="321.25" y2="238.0" stroke="#962c4a" stroke-width="1.0"/>
<rect x="314.3" y="246.4" width="8.9" height="18.6" fill="none" stroke="#962c4a" stroke-width="1.0"/>
<line x1="314.3" y1="264.1" x2="323.2" y2="264.1" stroke="#962c4a" stroke-width="1.0"/>
<circle cx="318.75" cy="253.5" r="1.1" fill="#6a0f20"/>
<circle cx="318.75" cy="264.5" r="1.1" fill="#6a0f20"/>
<line x1="328.25" y1="257.9" x2="328.25" y2="262.2" stroke="#43597e" stroke-width="1.0"/>
<line x1="325.75" y1="257.9" x2="330.75" y2="257.9" stroke="#43597e" stroke-width="1.0"/>
<line x1="328.25" y1="273.5" x2="328.25" y2="277.0" stroke="#43597e" stroke-width="1.0"/>
<line x1="325.75" y1="277.0" x2="330.75" y2="277.0" stroke="#43597e" stroke-width="1.0"/>
<rect x="323.6" y="262.2" width="9.3" height="11.3" fill="none" stroke="#43597e" stroke-width="1.0"/>
<line x1="323.6" y1="268.3" x2="332.9" y2="268.3" stroke="#43597e" stroke-width="1.0"/>
<circle cx="328.25" cy="266" r="1.1" fill="#1c2838"/>
<circle cx="328.25" cy="270" r="1.1" fill="#1c2838"/>
<text x="356.8" y="180.6" font-size="12" text-anchor="start" font-weight="bold" fill="#000" style="stroke:#000;stroke-width:0.25px">F</text>
<line x1="385.4" y1="187.1" x2="385.4" y2="280.3" stroke="#000" stroke-width="1.5"/>
<line x1="382.4" y1="189.8" x2="385.4" y2="189.8" stroke="#000" stroke-width="1.2"/>
<text x="379.1" y="192.7" font-size="8.3" text-anchor="end" font-weight="normal" fill="#222" >25</text>
<line x1="382.4" y1="207.9" x2="385.4" y2="207.9" stroke="#000" stroke-width="1.2"/>
<text x="379.1" y="210.8" font-size="8.3" text-anchor="end" font-weight="normal" fill="#222" >20</text>
<line x1="382.4" y1="226.0" x2="385.4" y2="226.0" stroke="#000" stroke-width="1.2"/>
<text x="379.1" y="228.9" font-size="8.3" text-anchor="end" font-weight="normal" fill="#222" >15</text>
<line x1="382.4" y1="244.1" x2="385.4" y2="244.1" stroke="#000" stroke-width="1.2"/>
<text x="379.1" y="247" font-size="8.3" text-anchor="end" font-weight="normal" fill="#222" >10</text>
<line x1="382.4" y1="262.2" x2="385.4" y2="262.2" stroke="#000" stroke-width="1.2"/>
<text x="379.1" y="265.1" font-size="8.3" text-anchor="end" font-weight="normal" fill="#222" >5</text>
<line x1="382.4" y1="280.3" x2="385.4" y2="280.3" stroke="#000" stroke-width="1.2"/>
<text x="379.1" y="283.2" font-size="8.3" text-anchor="end" font-weight="normal" fill="#222" >0</text>
<line x1="382" y1="280.3" x2="511.9" y2="280.3" stroke="#000" stroke-width="1.5"/>
<line x1="400.6" y1="280.3" x2="400.6" y2="283.3" stroke="#000" stroke-width="1.2"/>
<line x1="430.9" y1="280.3" x2="430.9" y2="283.3" stroke="#000" stroke-width="1.2"/>
<line x1="466.5" y1="280.3" x2="466.5" y2="283.3" stroke="#000" stroke-width="1.2"/>
<line x1="496.6" y1="280.3" x2="496.6" y2="283.3" stroke="#000" stroke-width="1.2"/>
<text x="400.6" y="293.8" font-size="8.2" text-anchor="middle" font-weight="normal" fill="#222" textLength="17.9" lengthAdjust="spacingAndGlyphs" >AdFe</text>
<text x="430.9" y="293.8" font-size="8.2" text-anchor="middle" font-weight="normal" fill="#222" textLength="12.9" lengthAdjust="spacingAndGlyphs" >LFe</text>
<text x="466.5" y="293.8" font-size="8.2" text-anchor="middle" font-weight="normal" fill="#222" textLength="17.9" lengthAdjust="spacingAndGlyphs" >AdFe</text>
<text x="496.6" y="293.8" font-size="8.2" text-anchor="middle" font-weight="normal" fill="#222" textLength="12.9" lengthAdjust="spacingAndGlyphs" >LFe</text>
<text x="400.6" y="303.3" font-size="8.0" text-anchor="middle" font-weight="normal" fill="#222" textLength="20.9" lengthAdjust="spacingAndGlyphs" >(4) (4)</text>
<text x="430.9" y="303.3" font-size="8.0" text-anchor="middle" font-weight="normal" fill="#222" textLength="20.9" lengthAdjust="spacingAndGlyphs" >(4) (5)</text>
<text x="466.5" y="303.3" font-size="8.0" text-anchor="middle" font-weight="normal" fill="#222" textLength="20.9" lengthAdjust="spacingAndGlyphs" >(5) (5)</text>
<text x="496.6" y="303.3" font-size="8.0" text-anchor="middle" font-weight="normal" fill="#222" textLength="20.9" lengthAdjust="spacingAndGlyphs" >(4) (4)</text>
<text x="416" y="315.6" font-size="10" text-anchor="middle" font-weight="bold" fill="#303030" textLength="21.3" lengthAdjust="spacingAndGlyphs" style="stroke:none">Female</text>
<text x="481.5" y="315.6" font-size="10" text-anchor="middle" font-weight="bold" fill="#303030" textLength="14.5" lengthAdjust="spacingAndGlyphs" style="stroke:none">Male</text>
<text transform="translate(360.4,264.9) rotate(-90)" x="0" y="0" font-size="10" fill="#222" style="stroke:#222;stroke-width:0.22px" textLength="64.3" lengthAdjust="spacingAndGlyphs">Bone <tspan font-size="7" dy="-3.2">59</tspan><tspan dy="3.2">Fe (cpm/mg)</tspan></text>
<rect x="390.8" y="241.5" width="9.8" height="5.1" fill="#e8c8d0" stroke="#962c4a" stroke-width="1.0"/>
<line x1="390.8" y1="244.0" x2="400.6" y2="244.0" stroke="#962c4a" stroke-width="1.0"/>
<line x1="392" y1="242.7" x2="399.4" y2="242.7" stroke="#b07080" stroke-width="0.8"/>
<line x1="392" y1="245.4" x2="399.4" y2="245.4" stroke="#b07080" stroke-width="0.8"/>
<line x1="405.75" y1="251.3" x2="405.75" y2="253.4" stroke="#43597e" stroke-width="1.0"/>
<line x1="403.25" y1="251.3" x2="408.25" y2="251.3" stroke="#43597e" stroke-width="1.0"/>
<line x1="405.75" y1="263.2" x2="405.75" y2="264.5" stroke="#43597e" stroke-width="1.0"/>
<line x1="403.25" y1="264.5" x2="408.25" y2="264.5" stroke="#43597e" stroke-width="1.0"/>
<rect x="401.0" y="253.4" width="9.5" height="9.8" fill="none" stroke="#43597e" stroke-width="1.0"/>
<line x1="401.0" y1="259.4" x2="410.5" y2="259.4" stroke="#43597e" stroke-width="1.0"/>
<circle cx="403.75" cy="259.2" r="1.1" fill="#1c2838"/>
<circle cx="405.75" cy="259.8" r="1.1" fill="#1c2838"/>
<circle cx="407.75" cy="259.2" r="1.1" fill="#1c2838"/>
<rect x="420.4" y="217.2" width="10.3" height="18.9" fill="none" stroke="#962c4a" stroke-width="1.0"/>
<line x1="420.4" y1="226.5" x2="430.7" y2="226.5" stroke="#962c4a" stroke-width="1.0"/>
<circle cx="425.55" cy="217.5" r="1.1" fill="#6a0f20"/>
<circle cx="425.55" cy="236" r="1.1" fill="#6a0f20"/>
<line x1="436.55" y1="199.8" x2="436.55" y2="217.8" stroke="#43597e" stroke-width="1.0"/>
<line x1="434.05" y1="199.8" x2="439.05" y2="199.8" stroke="#43597e" stroke-width="1.0"/>
<rect x="432.0" y="217.8" width="9.1" height="33.5" fill="none" stroke="#43597e" stroke-width="1.0"/>
<line x1="432.0" y1="241.7" x2="441.1" y2="241.7" stroke="#43597e" stroke-width="1.0"/>
<circle cx="436.55" cy="234" r="1.1" fill="#1c2838"/>
<circle cx="436.55" cy="250" r="1.1" fill="#1c2838"/>
<line x1="461.3" y1="260.2" x2="461.3" y2="261.7" stroke="#962c4a" stroke-width="1.0"/>
<line x1="458.8" y1="260.2" x2="463.8" y2="260.2" stroke="#962c4a" stroke-width="1.0"/>
<rect x="456.3" y="261.7" width="10.0" height="8.7" fill="none" stroke="#962c4a" stroke-width="1.0"/>
<line x1="456.3" y1="267.0" x2="466.3" y2="267.0" stroke="#962c4a" stroke-width="1.0"/>
<circle cx="461.3" cy="259.9" r="1.1" fill="#6a0f20"/>
<circle cx="461.3" cy="263.7" r="1.1" fill="#6a0f20"/>
<circle cx="461.3" cy="267" r="1.1" fill="#6a0f20"/>
<circle cx="461.3" cy="270.2" r="1.1" fill="#6a0f20"/>
<rect x="467.0" y="265.2" width="9.4" height="3.4" fill="#44587a" stroke="#43597e" stroke-width="1.0"/>
<line x1="467.0" y1="266.9" x2="476.4" y2="266.9" stroke="#43597e" stroke-width="1.0"/>
<circle cx="469.2" cy="266.9" r="1.1" fill="#1c2838"/>
<circle cx="471.7" cy="266.9" r="1.1" fill="#1c2838"/>
<circle cx="474.2" cy="266.9" r="1.1" fill="#1c2838"/>
<line x1="491.5" y1="208.9" x2="491.5" y2="214.4" stroke="#962c4a" stroke-width="1.0"/>
<line x1="489.0" y1="208.9" x2="494.0" y2="208.9" stroke="#962c4a" stroke-width="1.0"/>
<line x1="491.5" y1="250.4" x2="491.5" y2="256.6" stroke="#962c4a" stroke-width="1.0"/>
<line x1="489.0" y1="256.6" x2="494.0" y2="256.6" stroke="#962c4a" stroke-width="1.0"/>
<rect x="486.6" y="214.4" width="9.8" height="36.0" fill="none" stroke="#962c4a" stroke-width="1.0"/>
<line x1="486.6" y1="231.3" x2="496.4" y2="231.3" stroke="#962c4a" stroke-width="1.0"/>
<circle cx="491.5" cy="229.8" r="1.1" fill="#6a0f20"/>
<circle cx="491.5" cy="233.5" r="1.1" fill="#6a0f20"/>
<line x1="501.6" y1="228.5" x2="501.6" y2="230.2" stroke="#43597e" stroke-width="1.0"/>
<line x1="499.1" y1="228.5" x2="504.1" y2="228.5" stroke="#43597e" stroke-width="1.0"/>
<line x1="501.6" y1="240.2" x2="501.6" y2="241.7" stroke="#43597e" stroke-width="1.0"/>
<line x1="499.1" y1="241.7" x2="504.1" y2="241.7" stroke="#43597e" stroke-width="1.0"/>
<rect x="496.9" y="230.2" width="9.4" height="10.0" fill="none" stroke="#43597e" stroke-width="1.0"/>
<line x1="496.9" y1="235.4" x2="506.3" y2="235.4" stroke="#43597e" stroke-width="1.0"/>
<circle cx="501.6" cy="234.3" r="1.1" fill="#1c2838"/>
<circle cx="501.6" cy="240.6" r="1.1" fill="#1c2838"/>
<rect x="0" y="0" width="520" height="323" fill="none" stroke="#000" stroke-width="2.6"/>
</svg></body></html>
